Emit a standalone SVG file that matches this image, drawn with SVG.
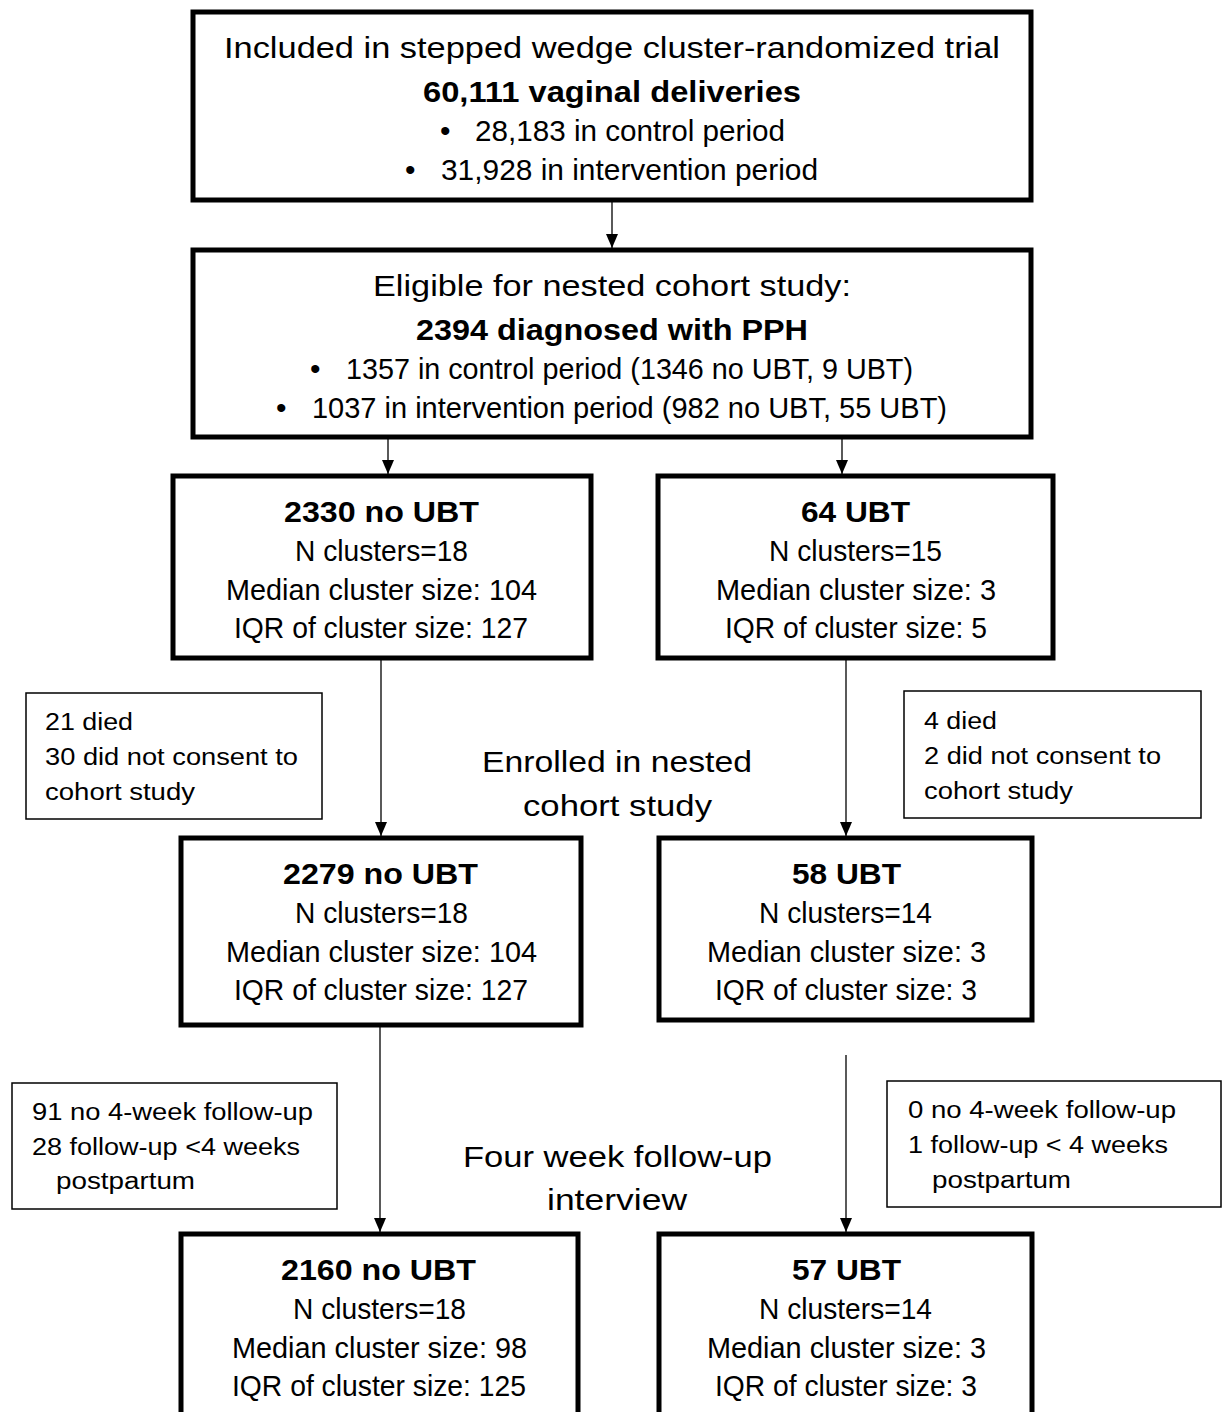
<svg xmlns="http://www.w3.org/2000/svg" width="1226" height="1412" viewBox="0 0 1226 1412">
<defs>
<marker id="ah" viewBox="0 0 14 12" refX="14" refY="6" markerWidth="14" markerHeight="12" markerUnits="userSpaceOnUse" orient="auto">
<path d="M0,0 L14,6 L0,12 Z" fill="#000"/>
</marker>
</defs>
<style>
text{font-family:"Liberation Sans",Arial,sans-serif;fill:#000}
.m{font-size:30px}
.b{font-size:29px;font-weight:bold}
.s{font-size:23px}
.c{font-size:30px}
.box{fill:#fff;stroke:#000;stroke-width:5}
.sbox{fill:#fff;stroke:#000;stroke-width:1.5}
.ln{stroke:#000;stroke-width:1.3;fill:none}
</style>
<rect width="1226" height="1412" fill="#fff"/>
<g id="connectors">
<line class="ln" x1="612" y1="201" x2="612" y2="248" marker-end="url(#ah)"/>
<line class="ln" x1="388" y1="439" x2="388" y2="474" marker-end="url(#ah)"/>
<line class="ln" x1="842" y1="439" x2="842" y2="474" marker-end="url(#ah)"/>
<line class="ln" x1="381" y1="660" x2="381" y2="836" marker-end="url(#ah)"/>
<line class="ln" x1="846" y1="660" x2="846" y2="836" marker-end="url(#ah)"/>
<line class="ln" x1="380" y1="1027" x2="380" y2="1232" marker-end="url(#ah)"/>
<line class="ln" x1="846" y1="1055" x2="846" y2="1232" marker-end="url(#ah)"/>
</g>
<g id="n1">
<rect class="box" x="193" y="12" width="838" height="188"/>
<text class="m" x="224" y="58" textLength="776" lengthAdjust="spacingAndGlyphs">Included in stepped wedge cluster-randomized trial</text>
<text class="b" x="423" y="102" textLength="378" lengthAdjust="spacingAndGlyphs">60,111 vaginal deliveries</text>
<text class="m" x="440" y="141">•</text>
<text class="m" x="475" y="141" textLength="310" lengthAdjust="spacingAndGlyphs">28,183 in control period</text>
<text class="m" x="405" y="180">•</text>
<text class="m" x="441" y="180" textLength="377" lengthAdjust="spacingAndGlyphs">31,928 in intervention period</text>
</g>
<g id="n2">
<rect class="box" x="193" y="250" width="838" height="187"/>
<text class="m" x="373" y="296" textLength="478" lengthAdjust="spacingAndGlyphs">Eligible for nested cohort study:</text>
<text class="b" x="416" y="340" textLength="392" lengthAdjust="spacingAndGlyphs">2394 diagnosed with PPH</text>
<text class="m" x="310" y="379">•</text>
<text class="m" x="346" y="379" textLength="567" lengthAdjust="spacingAndGlyphs">1357 in control period (1346 no UBT, 9 UBT)</text>
<text class="m" x="276" y="418">•</text>
<text class="m" x="312" y="418" textLength="635" lengthAdjust="spacingAndGlyphs">1037 in intervention period (982 no UBT, 55 UBT)</text>
</g>
<g id="n3">
<rect class="box" x="173" y="476" width="418" height="182"/>
<text class="b" x="284" y="522" textLength="195" lengthAdjust="spacingAndGlyphs">2330 no UBT</text>
<text class="m" x="295" y="561" textLength="173" lengthAdjust="spacingAndGlyphs">N clusters=18</text>
<text class="m" x="226" y="600" textLength="311" lengthAdjust="spacingAndGlyphs">Median cluster size: 104</text>
<text class="m" x="234" y="638" textLength="294" lengthAdjust="spacingAndGlyphs">IQR of cluster size: 127</text>
</g>
<g id="n4">
<rect class="box" x="658" y="476" width="395" height="182"/>
<text class="b" x="801" y="522" textLength="109" lengthAdjust="spacingAndGlyphs">64 UBT</text>
<text class="m" x="769" y="561" textLength="173" lengthAdjust="spacingAndGlyphs">N clusters=15</text>
<text class="m" x="716" y="600" textLength="280" lengthAdjust="spacingAndGlyphs">Median cluster size: 3</text>
<text class="m" x="725" y="638" textLength="262" lengthAdjust="spacingAndGlyphs">IQR of cluster size: 5</text>
</g>
<g id="n5">
<rect class="sbox" x="26" y="693" width="296" height="126"/>
<text class="s" x="45" y="730" textLength="88" lengthAdjust="spacingAndGlyphs">21 died</text>
<text class="s" x="45" y="765" textLength="253" lengthAdjust="spacingAndGlyphs">30 did not consent to</text>
<text class="s" x="45" y="800" textLength="150" lengthAdjust="spacingAndGlyphs">cohort study</text>
</g>
<g id="n6">
<text class="c" x="482" y="772" textLength="270" lengthAdjust="spacingAndGlyphs">Enrolled in nested</text>
<text class="c" x="523" y="816" textLength="189" lengthAdjust="spacingAndGlyphs">cohort study</text>
</g>
<g id="n7">
<rect class="sbox" x="904" y="691" width="297" height="127"/>
<text class="s" x="924" y="729" textLength="73" lengthAdjust="spacingAndGlyphs">4 died</text>
<text class="s" x="924" y="764" textLength="237" lengthAdjust="spacingAndGlyphs">2 did not consent to</text>
<text class="s" x="924" y="799" textLength="149" lengthAdjust="spacingAndGlyphs">cohort study</text>
</g>
<g id="n8">
<rect class="box" x="181" y="838" width="400" height="187"/>
<text class="b" x="283" y="884" textLength="195" lengthAdjust="spacingAndGlyphs">2279 no UBT</text>
<text class="m" x="295" y="923" textLength="173" lengthAdjust="spacingAndGlyphs">N clusters=18</text>
<text class="m" x="226" y="962" textLength="311" lengthAdjust="spacingAndGlyphs">Median cluster size: 104</text>
<text class="m" x="234" y="1000" textLength="294" lengthAdjust="spacingAndGlyphs">IQR of cluster size: 127</text>
</g>
<g id="n9">
<rect class="box" x="659" y="838" width="373" height="182"/>
<text class="b" x="792" y="884" textLength="109" lengthAdjust="spacingAndGlyphs">58 UBT</text>
<text class="m" x="759" y="923" textLength="173" lengthAdjust="spacingAndGlyphs">N clusters=14</text>
<text class="m" x="707" y="962" textLength="279" lengthAdjust="spacingAndGlyphs">Median cluster size: 3</text>
<text class="m" x="715" y="1000" textLength="262" lengthAdjust="spacingAndGlyphs">IQR of cluster size: 3</text>
</g>
<g id="n10">
<rect class="sbox" x="12" y="1083" width="325" height="126"/>
<text class="s" x="32" y="1120" textLength="281" lengthAdjust="spacingAndGlyphs">91 no 4-week follow-up</text>
<text class="s" x="32" y="1155" textLength="268" lengthAdjust="spacingAndGlyphs">28 follow-up &lt;4 weeks</text>
<text class="s" x="56" y="1189" textLength="139" lengthAdjust="spacingAndGlyphs">postpartum</text>
</g>
<g id="n11">
<text class="c" x="463" y="1167" textLength="309" lengthAdjust="spacingAndGlyphs">Four week follow-up</text>
<text class="c" x="547" y="1210" textLength="140" lengthAdjust="spacingAndGlyphs">interview</text>
</g>
<g id="n12">
<rect class="sbox" x="887" y="1081" width="334" height="126"/>
<text class="s" x="908" y="1118" textLength="268" lengthAdjust="spacingAndGlyphs">0 no 4-week follow-up</text>
<text class="s" x="908" y="1153" textLength="260" lengthAdjust="spacingAndGlyphs">1 follow-up &lt; 4 weeks</text>
<text class="s" x="932" y="1188" textLength="139" lengthAdjust="spacingAndGlyphs">postpartum</text>
</g>
<g id="n13">
<rect class="box" x="181" y="1234" width="397" height="190"/>
<text class="b" x="281" y="1280" textLength="195" lengthAdjust="spacingAndGlyphs">2160 no UBT</text>
<text class="m" x="293" y="1319" textLength="173" lengthAdjust="spacingAndGlyphs">N clusters=18</text>
<text class="m" x="232" y="1358" textLength="295" lengthAdjust="spacingAndGlyphs">Median cluster size: 98</text>
<text class="m" x="232" y="1396" textLength="294" lengthAdjust="spacingAndGlyphs">IQR of cluster size: 125</text>
</g>
<g id="n14">
<rect class="box" x="659" y="1234" width="373" height="190"/>
<text class="b" x="792" y="1280" textLength="109" lengthAdjust="spacingAndGlyphs">57 UBT</text>
<text class="m" x="759" y="1319" textLength="173" lengthAdjust="spacingAndGlyphs">N clusters=14</text>
<text class="m" x="707" y="1358" textLength="279" lengthAdjust="spacingAndGlyphs">Median cluster size: 3</text>
<text class="m" x="715" y="1396" textLength="262" lengthAdjust="spacingAndGlyphs">IQR of cluster size: 3</text>
</g>
</svg>
